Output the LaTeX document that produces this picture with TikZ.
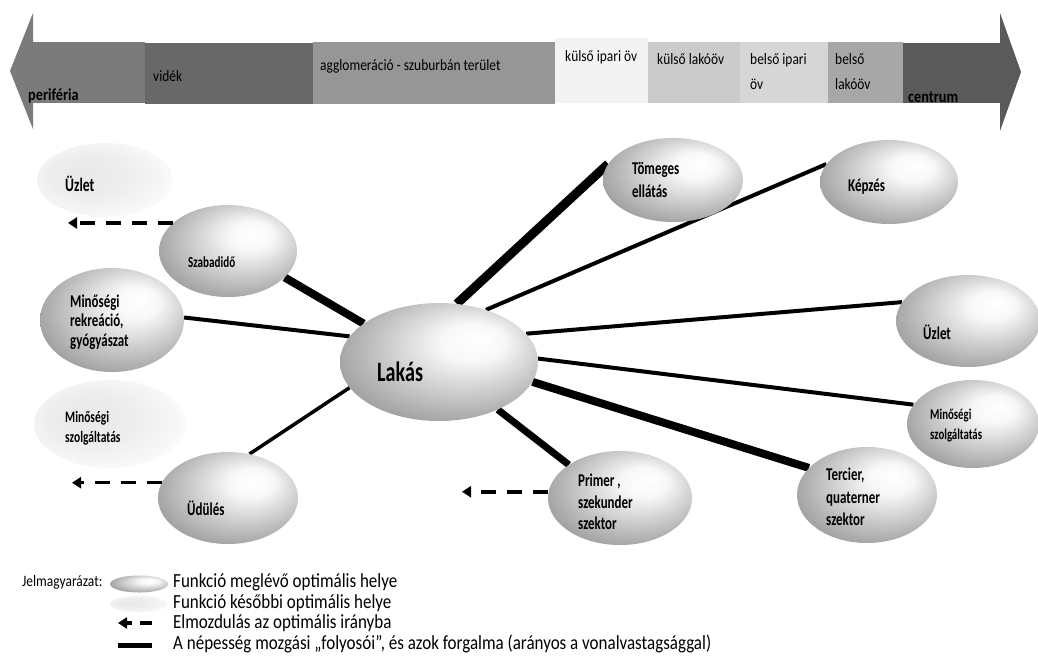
\documentclass[tikz,border=0pt]{standalone}
\usepackage{fontspec}
\setmainfont{Carlito}[FakeStretch=0.72]
\newfontfamily\plainfont{Carlito}[FakeStretch=0.85]
\usetikzlibrary{shapes.geometric, arrows.meta, calc, backgrounds}
\definecolor{zperif}{RGB}{123,123,123}
\definecolor{zvidek}{RGB}{104,104,104}
\definecolor{zagglo}{RGB}{150,150,150}
\definecolor{zkipar}{RGB}{243,243,243}
\definecolor{zklako}{RGB}{203,203,203}
\definecolor{zbipar}{RGB}{214,214,214}
\definecolor{zblako}{RGB}{167,167,167}
\definecolor{zcent}{RGB}{90,90,90}
\pgfdeclareradialshading{funcnow}{\pgfpoint{10bp}{10bp}}{color(0bp)=(white); color(8bp)=(white!97!black); color(34bp)=(black!42); color(50bp)=(black!58)}
\pgfdeclareradialshading{funclater}{\pgfpoint{-8bp}{4bp}}{color(0bp)=(black!9); color(14bp)=(black!7); color(26bp)=(black!3); color(32bp)=(white); color(50bp)=(white)}

\begin{document}
\begin{tikzpicture}[x=1pt, y=-1pt,
  nowfunc/.style={ellipse, inner sep=0pt, shading=funcnow},
  laterfunc/.style={ellipse, inner sep=0pt, shading=funclater},
  fname/.style={anchor=west, align=left, inner sep=0pt, font=\bfseries\fontsize{18}{22.5}\selectfont},
  zname/.style={anchor=west, align=left, inner sep=0pt, font=\plainfont\fontsize{15.8}{25}\selectfont},
  lname/.style={anchor=west, align=left, inner sep=0pt, font=\plainfont\fontsize{20}{24}\selectfont},
  corridor/.style={line width=#1},
  relocate/.style={line width=3.5pt, dash pattern=on 15pt off 11pt, -{Triangle[length=9pt,width=11pt]}}
]
\useasboundingbox (0,0) rectangle (1038,657);

% zones from periphery to centre
\fill[zperif] (33,13) -- (10,71) -- (33,129) -- cycle;
\fill[zperif] (33,42) rectangle (145,103);
\fill[zvidek] (145,43) rectangle (313,104);
\fill[zagglo] (313,42) rectangle (555,104);
\fill[zkipar] (555,38) rectangle (648,103);
\fill[zklako] (648,42) rectangle (740,103);
\fill[zbipar] (740,42) rectangle (828,103);
\fill[zblako] (828,42) rectangle (903,103);
\fill[zcent] (903,43) rectangle (1000,103);
\fill[zcent] (1000,13) -- (1021,72) -- (1000,131) -- cycle;

\node[zname, font=\plainfont\bfseries\fontsize{16.8}{20}\selectfont] (perif-t) at (28,96) {periféria};
\node[zname] (videk-t) at (153,76) {vidék};
\node[zname] (agglo-t) at (320,66) {agglomeráció - szuburbán terület};
\node[zname] (kipar-t) at (565,57) {külső ipari öv};
\node[zname] (klako-t) at (657,59) {külső lakóöv};
\node[zname] (bipar-t) at (750,72) {belső ipari\\öv};
\node[zname] (blako-t) at (835,72) {belső\\lakóöv};
\node[zname, font=\plainfont\bfseries\fontsize{16.8}{20}\selectfont] (cent-t) at (908,97) {centrum};

% functions
\node[laterfunc, minimum width=136pt, minimum height=74pt] (uzletL) at (105,180) {};
\node[nowfunc, minimum width=138pt, minimum height=92pt] (szabad) at (228,251) {};
\node[nowfunc, minimum width=144pt, minimum height=104pt] (rekrea) at (112,320) {};
\node[laterfunc, minimum width=152pt, minimum height=88pt] (szolgL) at (110,424) {};
\node[nowfunc, minimum width=140pt, minimum height=92pt] (udules) at (228,498) {};
\node[nowfunc, minimum width=198pt, minimum height=118pt] (lakas) at (439,362) {};
\node[nowfunc, minimum width=140pt, minimum height=84pt] (tomeg) at (673,180) {};
\node[nowfunc, minimum width=138pt, minimum height=84pt] (kepzes) at (889,182) {};
\node[nowfunc, minimum width=144pt, minimum height=92pt] (uzletR) at (968,321) {};
\node[nowfunc, minimum width=132pt, minimum height=88pt] (szolgR) at (973,424) {};
\node[nowfunc, minimum width=140pt, minimum height=96pt] (tercier) at (867,495) {};
\node[nowfunc, minimum width=144pt, minimum height=94pt] (primer) at (620,498) {};

\node[fname, font=\bfseries\fontsize{19}{22}\selectfont] (uzletL-t) at ($(uzletL)+(-40,4)$) {Üzlet};
\node[fname, font=\bfseries\fontsize{15.4}{18}\selectfont] (szabad-t) at ($(szabad)+(-40,11)$) {Szabadidő};
\node[fname, font=\bfseries\fontsize{18}{19.5}\selectfont] (rekrea-t) at ($(rekrea)+(-42,2)$) {Minőségi\\rekreáció,\\gyógyászat};
\node[fname, font=\bfseries\fontsize{16}{20}\selectfont] (szolgL-t) at ($(szolgL)+(-45,4)$) {Minőségi\\szolgáltatás};
\node[fname] (udules-t) at ($(udules)+(-41,10)$) {Üdülés};
\node[fname, font=\bfseries\fontsize{28}{32}\selectfont] (lakas-t) at ($(lakas)+(-62,10)$) {Lakás};
\node[fname] (tomeg-t) at ($(tomeg)+(-41,0)$) {Tömeges\\ellátás};
\node[fname] (kepzes-t) at ($(kepzes)+(-41,5)$) {Képzés};
\node[fname] (uzletR-t) at ($(uzletR)+(-45,11)$) {Üzlet};
\node[fname, font=\bfseries\fontsize{15}{20}\selectfont] (szolgR-t) at ($(szolgR)+(-43,1)$) {Minőségi\\szolgáltatás};
\node[fname] (tercier-t) at ($(tercier)+(-41,2)$) {Tercier,\\quaterner\\szektor};
\node[fname, font=\bfseries\fontsize{18}{21.5}\selectfont] (primer-t) at ($(primer)+(-42,4)$) {Primer ,\\szekunder\\szektor};

% corridors
\begin{scope}[on background layer]
\draw[corridor=9pt] (lakas.73) -- (tomeg.166);
\draw[corridor=4pt] (lakas.48) -- (kepzes.164);
\draw[corridor=4pt] (lakas.18) -- (uzletR.164);
\draw[corridor=4pt] (lakas.2) -- (szolgR.162);
\draw[corridor=8pt] (lakas.-12) -- (tercier.155);
\draw[corridor=7pt] (lakas.-39) -- (primer.147);
\draw[corridor=8pt] (lakas.153) -- (szabad.-25);
\draw[corridor=4pt] (lakas.164) -- (rekrea.2);
\draw[corridor=3.5pt] (lakas.196) -- (udules.64);
\end{scope}

% moves towards the optimum
\coordinate (szabad-end) at (68,223);
\coordinate (udules-end) at (72,483);
\coordinate (primer-end) at (462,492);
\draw[relocate] (szabad.153) -- (szabad.153 -| szabad-end);
\draw[relocate] (udules.167) -- (udules.167 -| udules-end);
\draw[relocate] (primer.175) -- (primer.175 -| primer-end);

% legend
\node[lname, font=\plainfont\fontsize{15.8}{20}\selectfont] (legend-t) at (22,582) {Jelmagyarázat:};
\node[nowfunc, minimum width=58pt, minimum height=17pt] (legend-now) at (139,584) {};
\node[laterfunc, minimum width=58pt, minimum height=17pt] (legend-later) at (139,604) {};
\coordinate (legend-mva) at (152,623);
\coordinate (legend-mvb) at (118,623);
\draw[relocate, dash pattern=on 12pt off 8pt] (legend-mva) -- (legend-mvb);
\coordinate (legend-cora) at (118,645);
\coordinate (legend-corb) at (152,645);
\draw[corridor=5pt] (legend-cora) -- (legend-corb);
\node[lname] (legend-now-t) at (173,582) {Funkció meglévő optimális helye};
\node[lname] (legend-later-t) at (173,603) {Funkció későbbi optimális helye};
\node[lname] (legend-mv-t) at (173,623) {Elmozdulás az optimális irányba};
\node[lname] (legend-cor-t) at (173,644) {A népesség mozgási „folyosói”, és azok forgalma (arányos a vonalvastagsággal)};
\end{tikzpicture}
\end{document}
